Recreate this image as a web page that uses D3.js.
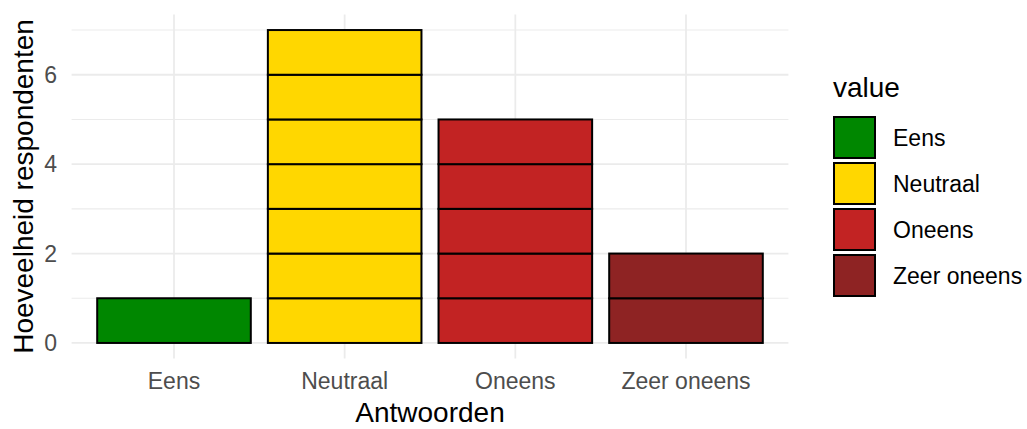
<!DOCTYPE html>
<html>
<head>
<meta charset="utf-8">
<script src="https://cdn.jsdelivr.net/npm/d3@7"></script>
<style>
  body { margin: 0; background: #fff; }
  text { font-family: "Liberation Sans", Arial, sans-serif; }
</style>
</head>
<body>
<svg id="chart" width="1027" height="429"></svg>
<script>
// Answer categories and how many respondents picked each
const categories = ["Eens", "Neutraal", "Oneens", "Zeer oneens"];
const counts = [1, 7, 5, 2];
const fillColors = ["#008700", "#FFD700", "#C22323", "#8E2323"];
const yTicks = [0, 2, 4, 6];
const yMinor = [1, 3, 5, 7];

const svg = d3.select("#chart");
const panel = { left: 71.6, right: 788.4, top: 14.4, bottom: 358.6 };

// Discrete x with 0.6-unit padding on both ends
const x = d3.scaleLinear()
  .domain([1 - 0.6, categories.length + 0.6])
  .range([panel.left, panel.right]);
const barWidth = 0.9;

// y with 5% expansion
const yMax = d3.max(counts);
const y = d3.scaleLinear()
  .domain([-0.05 * yMax, yMax * 1.05])
  .range([panel.bottom, panel.top]);

const grid = svg.append("g");
grid.selectAll(".minor").data(yMinor).join("line")
  .attr("x1", panel.left).attr("x2", panel.right)
  .attr("y1", d => y(d)).attr("y2", d => y(d))
  .attr("stroke", "#EBEBEB").attr("stroke-width", 1.1);
grid.selectAll(".major").data(yTicks).join("line")
  .attr("x1", panel.left).attr("x2", panel.right)
  .attr("y1", d => y(d)).attr("y2", d => y(d))
  .attr("stroke", "#EBEBEB").attr("stroke-width", 1.8);
grid.selectAll(".vmajor").data(categories).join("line")
  .attr("x1", (d, i) => x(i + 1)).attr("x2", (d, i) => x(i + 1))
  .attr("y1", panel.top).attr("y2", panel.bottom)
  .attr("stroke", "#EBEBEB").attr("stroke-width", 1.8);

// One stacked segment per respondent
const segments = [];
categories.forEach((c, i) => {
  for (let k = 0; k < counts[i]; k++) segments.push({ i, k, c });
});
svg.append("g").selectAll("rect").data(segments).join("rect")
  .attr("x", d => x(d.i + 1 - barWidth / 2))
  .attr("width", d => x(d.i + 1 + barWidth / 2) - x(d.i + 1 - barWidth / 2))
  .attr("y", d => y(d.k + 1))
  .attr("height", d => y(d.k) - y(d.k + 1))
  .attr("fill", d => fillColors[d.i])
  .attr("stroke", "#000").attr("stroke-width", 2);

// Axis tick labels
svg.append("g").selectAll("text").data(yTicks).join("text")
  .attr("x", 57).attr("y", d => y(d))
  .attr("dy", "0.35em")
  .attr("text-anchor", "end")
  .attr("font-size", 23).attr("fill", "#4D4D4D")
  .text(d => d);

svg.append("g").selectAll("text").data(categories).join("text")
  .attr("x", (d, i) => x(i + 1)).attr("y", 388.5)
  .attr("text-anchor", "middle")
  .attr("font-size", 23).attr("fill", "#4D4D4D")
  .text(d => d);

// Axis titles
svg.append("text")
  .attr("x", (panel.left + panel.right) / 2).attr("y", 422)
  .attr("text-anchor", "middle").attr("font-size", 28).attr("fill", "#000")
  .text("Antwoorden");

svg.append("text")
  .attr("transform", `translate(33,${(panel.top + panel.bottom) / 2}) rotate(-90)`)
  .attr("text-anchor", "middle").attr("font-size", 28).attr("fill", "#000")
  .text("Hoeveelheid respondenten");

// Legend
const legend = svg.append("g").attr("transform", "translate(833,0)");
legend.append("text").attr("x", 0).attr("y", 97)
  .attr("font-size", 28).attr("fill", "#000").text("value");
const keyStep = 46, keyTop = 117, keySize = 41;
const items = legend.selectAll(".item").data(categories).join("g")
  .attr("transform", (d, i) => `translate(0,${keyTop + i * keyStep})`);
items.append("rect")
  .attr("x", 1).attr("y", 0).attr("width", keySize).attr("height", keySize)
  .attr("fill", (d, i) => fillColors[i])
  .attr("stroke", "#000").attr("stroke-width", 2);
items.append("text")
  .attr("x", 60).attr("y", keySize / 2).attr("dy", "0.35em")
  .attr("font-size", 23).attr("fill", "#000")
  .text(d => d);
</script>
</body>
</html>
